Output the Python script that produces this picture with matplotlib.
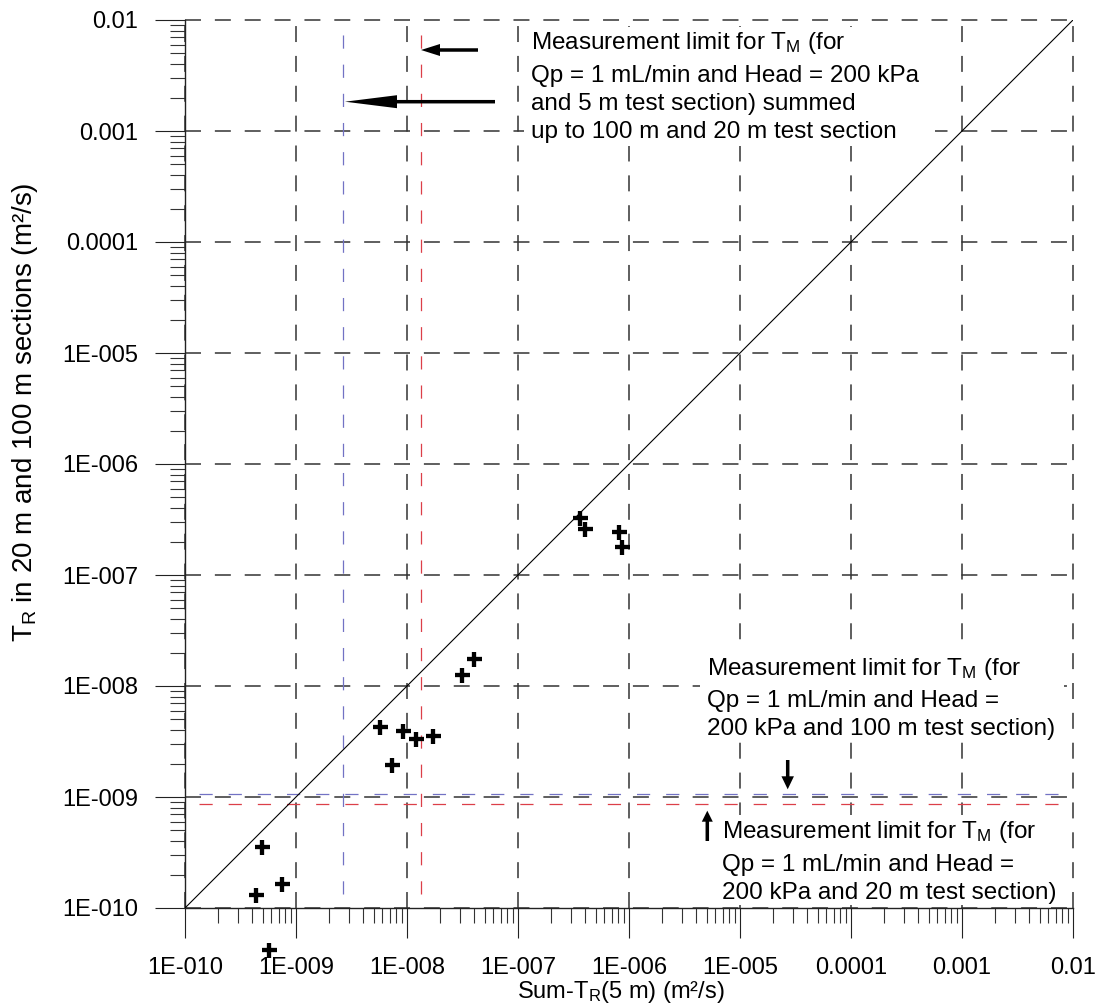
import numpy as np
import matplotlib
matplotlib.use("Agg")
import matplotlib.pyplot as plt
from matplotlib.ticker import LogLocator, FuncFormatter, NullFormatter
from matplotlib.patches import Rectangle

plt.rcParams['font.family'] = ['Liberation Sans', 'DejaVu Sans']
plt.rcParams['mathtext.default'] = 'regular'
plt.rcParams['lines.scale_dashes'] = False

# Sum of 5 m section transmissivities vs. transmissivity measured in 20 m / 100 m sections
sum_t5 = [4.9e-10, 4.37e-10, 7.43e-10, 5.7e-10,
          5.68e-9, 9.14e-9, 1.2e-8, 1.71e-8, 7.28e-9,
          3.11e-8, 4.02e-8,
          3.62e-7, 4.02e-7, 8.07e-7, 8.59e-7]
t_r = [3.56e-10, 1.31e-10, 1.64e-10, 4.2e-11,
       4.3e-9, 3.95e-9, 3.31e-9, 3.55e-9, 1.95e-9,
       1.26e-8, 1.75e-8,
       3.24e-7, 2.6e-7, 2.46e-7, 1.79e-7]

# Measurement limits (m2/s)
limit_h_upper = 1.07e-9    # 100 m test section
limit_h_lower = 8.7e-10    # 20 m test section
limit_v_left = 2.67e-9     # 5 m limit summed (shorter interval)
limit_v_right = 1.34e-8    # 5 m limit summed (longer interval)
limit_line_start = 1.35e-10

axis_min, axis_max = 1e-10, 1e-2

W, H = 1097, 1007
fig = plt.figure(figsize=(W / 100, H / 100), dpi=100)
ax = fig.add_axes([185 / W, 99 / H, 888 / W, 888 / H])
ax.set_xscale('log')
ax.set_yscale('log')
ax.set_xlim(axis_min, axis_max)
ax.set_ylim(axis_min, axis_max)


def tick_fmt(v, pos):
    e = int(round(np.log10(v)))
    if e >= -4:
        return f"{v:g}"
    return f"1E-{-e:03d}"


for axis in (ax.xaxis, ax.yaxis):
    axis.set_major_locator(LogLocator(base=10, numticks=20))
    axis.set_minor_locator(LogLocator(base=10, subs=np.arange(2, 10), numticks=20))
    axis.set_major_formatter(FuncFormatter(tick_fmt))
    axis.set_minor_formatter(NullFormatter())

ax.tick_params(which='major', direction='out', length=21.6, width=0.8, color='#222222',
               labelsize=17)
ax.tick_params(which='minor', direction='out', length=10.8, width=0.8, color='#333333')
ax.tick_params(axis='x', which='major', pad=14)
ax.tick_params(axis='y', which='major', pad=12)

for side in ('top', 'right'):
    ax.spines[side].set_visible(False)
for side in ('left', 'bottom'):
    ax.spines[side].set_linewidth(1.0)
    ax.spines[side].set_color('#222222')

ax.grid(which='major', color='#333333', linewidth=1.1, linestyle=(0, (11.5, 10)))

# 1:1 line
ax.plot([axis_min, axis_max], [axis_min, axis_max], color='black', lw=0.8, zorder=3)

# measurement limit lines
blue, red = '#7272c4', '#dc3f48'
ax.plot([limit_line_start, axis_max], [limit_h_upper, limit_h_upper], color=blue, lw=0.9,
        linestyle=(0, (9.5, 11.5)), zorder=2.6)
ax.plot([limit_line_start, axis_max], [limit_h_lower, limit_h_lower], color=red, lw=0.9,
        linestyle=(0, (9.5, 11.5)), zorder=2.6)
ax.plot([limit_v_left, limit_v_left], [limit_line_start, axis_max], color=blue, lw=0.9,
        linestyle=(0, (9.5, 11.5)), zorder=2.6)
ax.plot([limit_v_right, limit_v_right], [limit_line_start, axis_max], color=red, lw=0.9,
        linestyle=(0, (9.5, 11.5)), zorder=2.6)

# data points
ax.plot(sum_t5, t_r, linestyle='none', marker='+', ms=10.8, mew=3.1, color='black',
        clip_on=False, zorder=5)


def ax_pt(px, py):
    return ((px - 185) / 888, (908 - py) / 888)


def white_box(x0, y0, x1, y1):
    ax0, ay1 = ax_pt(x0, y0)
    ax1, ay0 = ax_pt(x1, y1)
    ax.add_patch(Rectangle((ax0, ay0), ax1 - ax0, ay1 - ay0, transform=ax.transAxes,
                           facecolor='white', edgecolor='none', zorder=3.5))


def text_lines(x, baselines, lines, size=17.5):
    for yb, s in zip(baselines, lines):
        tx, ty = ax_pt(x, yb)
        ax.text(tx, ty, s, transform=ax.transAxes, ha='left', va='baseline',
                fontsize=size, color='black', zorder=4)


white_box(524, 27, 935, 146)
text_lines(531, [49.5, 82, 110, 138],
           ["Measurement limit for $T_M$ (for",
            "Qp = 1 mL/min and Head = 200 kPa",
            "and 5 m test section) summed",
            "up to 100 m and 20 m test section"])

white_box(700, 645, 1064, 742)
text_lines(707, [675, 707, 735],
           ["Measurement limit for $T_M$ (for",
            "Qp = 1 mL/min and Head =",
            "200 kPa and 100 m test section)"])

white_box(715, 815, 1066, 905)
text_lines(722.5, [838, 870.5, 899],
           ["Measurement limit for $T_M$ (for",
            "Qp = 1 mL/min and Head =",
            "200 kPa and 20 m test section)"])


def arrow(tail, tip, head_len, head_w, tail_w):
    k = 0.72
    ax.annotate('', xy=ax_pt(*tip), xytext=ax_pt(*tail), xycoords='axes fraction',
                textcoords='axes fraction',
                arrowprops=dict(arrowstyle=f"simple,head_length={head_len * k},"
                                           f"head_width={head_w * k},tail_width={tail_w * k}",
                                mutation_scale=1, shrinkA=0, shrinkB=0,
                                fc='black', ec='none'),
                zorder=6)


arrow((478, 50), (421, 50), 19, 12, 3.5)
arrow((495, 101.7), (345, 101.7), 52, 13, 3.5)
arrow((787.7, 760), (787.7, 789.3), 13, 12.5, 3.5)
arrow((707.3, 841), (707.3, 810.7), 11, 11, 3.5)

fig.text(25 / W, 1 - 412 / H, "$T_R$ in 20 m and 100 m sections (m²/s)", rotation=90,
         ha='center', va='center', fontsize=20)
fig.text(621 / W, 1 - 998 / H, "Sum-$T_R$(5 m) (m²/s)", ha='center', va='baseline',
         fontsize=17)

fig.canvas.draw()
for gl in ax.get_xgridlines() + ax.get_ygridlines():
    gl.set_clip_on(False)

fig.savefig("out.png", dpi=100)
